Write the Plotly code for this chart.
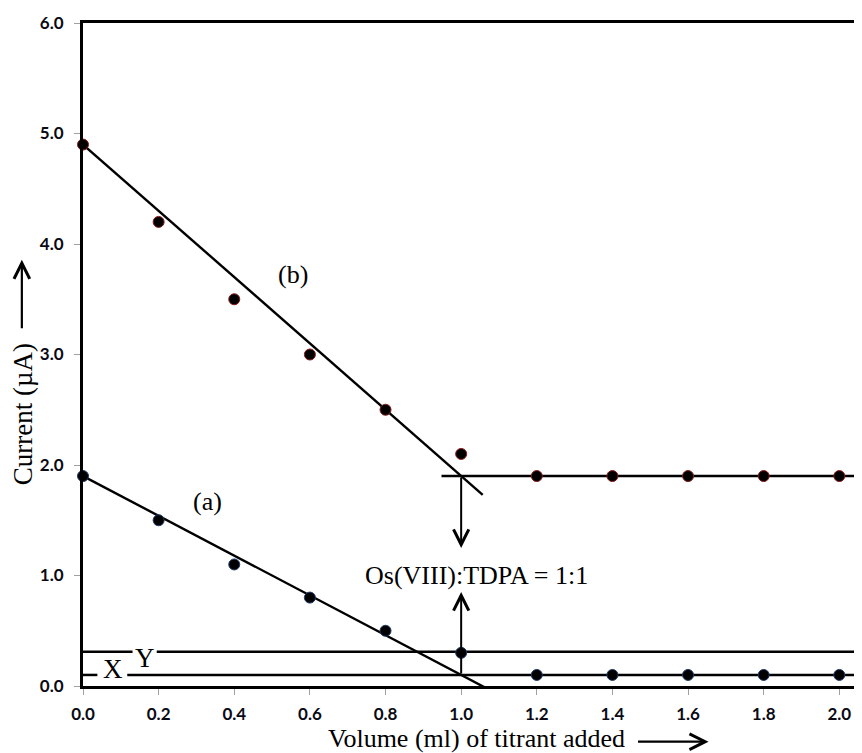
import plotly.graph_objects as go

# ---- data ----
volume = [0.0, 0.2, 0.4, 0.6, 0.8, 1.0, 1.2, 1.4, 1.6, 1.8, 2.0]
current_b = [4.9, 4.2, 3.5, 3.0, 2.5, 2.1, 1.9, 1.9, 1.9, 1.9, 1.9]
current_a = [1.9, 1.5, 1.1, 0.8, 0.5, 0.3, 0.1, 0.1, 0.1, 0.1, 0.1]

# fitted straight lines (end points)
fit_b_x = [0.0, 1.057]
fit_b_y = [4.9, 1.73]
flat_b_x = [0.948, 2.1]
flat_b_y = [1.9, 1.9]
fit_a_x = [0.0, 1.075]
fit_a_y = [1.9, -0.035]

# reference levels X and Y (with gaps where the labels sit)
level_x = 0.1
level_y = 0.31
level_x_segs = [-0.01, 0.038, None, 0.117, 2.1]
level_y_segs = [-0.01, 0.131, None, 0.195, 2.1]

end_point = 1.0
x_ticks = [0.0, 0.2, 0.4, 0.6, 0.8, 1.0, 1.2, 1.4, 1.6, 1.8, 2.0]
y_ticks = [0.0, 1.0, 2.0, 3.0, 4.0, 5.0, 6.0]

SERIF = "Liberation Serif, Times New Roman, serif"
TICKFONT = dict(family="Lato, Noto Sans, sans-serif", size=17, color="#0a0a14", weight="bold")

fig = go.Figure()

line_style = dict(color="black", width=2.4)

fig.add_trace(go.Scatter(x=fit_b_x, y=fit_b_y, mode="lines", line=line_style, hoverinfo="skip"))
fig.add_trace(go.Scatter(x=flat_b_x, y=flat_b_y, mode="lines", line=line_style, hoverinfo="skip"))
fig.add_trace(go.Scatter(x=fit_a_x, y=fit_a_y, mode="lines", line=line_style, hoverinfo="skip"))
fig.add_trace(go.Scatter(x=level_x_segs, y=[level_x if v is not None else None for v in level_x_segs],
                         mode="lines", line=dict(color="black", width=2.5), hoverinfo="skip",
                         connectgaps=False))
fig.add_trace(go.Scatter(x=level_y_segs, y=[level_y if v is not None else None for v in level_y_segs],
                         mode="lines", line=dict(color="black", width=2.5), hoverinfo="skip",
                         connectgaps=False))

fig.add_trace(go.Scatter(x=volume, y=current_b, mode="markers", cliponaxis=False,
                         marker=dict(size=11, color="black", line=dict(color="#8b1a1a", width=1))))
fig.add_trace(go.Scatter(x=volume, y=current_a, mode="markers", cliponaxis=False,
                         marker=dict(size=11, color="black", line=dict(color="#1f3b6b", width=1))))

annotations = [
    # end-point arrows
    dict(x=end_point, y=1.25, ax=end_point, ay=flat_b_y[0], xref="x", yref="y", axref="x", ayref="y",
         text="", showarrow=True, arrowhead=5, arrowsize=1.5, arrowwidth=2, arrowcolor="black"),
    dict(x=end_point, y=0.85, ax=end_point, ay=level_x, xref="x", yref="y", axref="x", ayref="y",
         text="", showarrow=True, arrowhead=5, arrowsize=1.5, arrowwidth=2, arrowcolor="black"),
    dict(x=1.041, y=1.0, xref="x", yref="y", text="Os(VIII):TDPA = 1:1", showarrow=False,
         font=dict(family=SERIF, size=26, color="black")),
    dict(x=0.555, y=3.72, xref="x", yref="y", text="(b)", showarrow=False,
         font=dict(family=SERIF, size=26, color="black")),
    dict(x=0.328, y=1.67, xref="x", yref="y", text="(a)", showarrow=False,
         font=dict(family=SERIF, size=26, color="black")),
    dict(x=0.078, y=0.15, xref="x", yref="y", text="X", showarrow=False,
         font=dict(family=SERIF, size=27, color="black")),
    dict(x=0.164, y=0.25, xref="x", yref="y", text="Y", showarrow=False,
         font=dict(family=SERIF, size=27, color="black")),
    # axis titles
    dict(x=0.5045, y=-0.079, xref="paper", yref="paper", text="Volume (ml) of titrant added",
         showarrow=False, xanchor="center", yanchor="middle",
         font=dict(family=SERIF, size=26, color="black")),
    dict(x=0.803, y=-0.084, xref="paper", yref="paper", ax=-72, ay=0, text="",
         showarrow=True, arrowhead=5, arrowsize=1.4, arrowwidth=2.2, arrowcolor="black"),
    dict(x=-0.077, y=0.41, xref="paper", yref="paper", text="Current (µA)", textangle=-90,
         showarrow=False, xanchor="center", yanchor="middle",
         font=dict(family=SERIF, size=27, color="black")),
    dict(x=-0.0785, y=0.643, xref="paper", yref="paper", ax=0, ay=70, text="",
         showarrow=True, arrowhead=5, arrowsize=1.4, arrowwidth=2.2, arrowcolor="black"),
]

fig.update_layout(
    width=854, height=745,
    margin=dict(l=75, r=0, t=15, b=67),
    paper_bgcolor="white", plot_bgcolor="white",
    showlegend=False,
    annotations=annotations,
    xaxis=dict(range=[0, 2.06], tickvals=x_ticks, tickformat=".1f",
               showgrid=False, zeroline=False, showline=True, linecolor="black", linewidth=3,
               mirror=True, ticks="outside", ticklen=6, tickcolor="#a0a0a0", tickwidth=1,
               tickfont=TICKFONT, ticklabelstandoff=5),
    yaxis=dict(range=[0, 6], tickvals=y_ticks, tickformat=".1f",
               showgrid=False, zeroline=False, showline=True, linecolor="black", linewidth=3,
               ticks="outside", ticklen=6, tickcolor="#a0a0a0", tickwidth=1,
               tickfont=TICKFONT, ticklabelstandoff=7),
)

fig.write_html("out.html")
